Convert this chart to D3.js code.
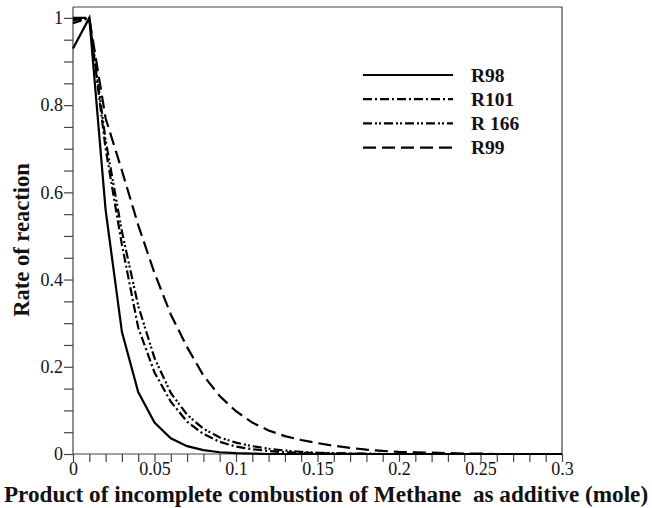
<!DOCTYPE html>
<html>
<head>
<meta charset="utf-8">
<script src="https://cdn.jsdelivr.net/npm/d3@7/dist/d3.min.js"></script>
<style>
  body { margin: 0; background: #fff; }
  text { font-family: "Liberation Serif", "Times New Roman", serif; fill: #111; }
  .axis path, .axis line { stroke: #444; stroke-width: 1.2; }
  .title { font-weight: bold; white-space: pre; }
</style>
</head>
<body>
<svg id="chart"></svg>
<script>
// x positions (mole) and rates for each reaction
const xValues = [0, 0.01, 0.02, 0.03, 0.04, 0.05, 0.06, 0.07, 0.08, 0.09, 0.1,
  0.11, 0.12, 0.13, 0.14, 0.15, 0.16, 0.17, 0.18, 0.19, 0.2,
  0.21, 0.22, 0.23, 0.24, 0.25, 0.26, 0.27, 0.28, 0.29, 0.3];

const r98 = [0.93, 1.0, 0.56, 0.28, 0.142, 0.072, 0.036, 0.018, 0.009, 0.004, 0.002,
  0.001, 0, 0, 0, 0, 0, 0, 0, 0, 0, 0, 0, 0, 0, 0, 0, 0, 0, 0, 0];
const r101 = [0.995, 1.0, 0.70, 0.48, 0.29, 0.187, 0.12, 0.074, 0.046, 0.028, 0.017,
  0.011, 0.007, 0.004, 0.003, 0.002, 0.001, 0.001, 0, 0, 0, 0, 0, 0, 0, 0, 0, 0, 0, 0, 0];
const r166 = [0.988, 1.0, 0.72, 0.51, 0.34, 0.22, 0.14, 0.09, 0.058, 0.038, 0.026,
  0.018, 0.012, 0.008, 0.005, 0.003, 0.002, 0.001, 0.001, 0, 0, 0, 0, 0, 0, 0, 0, 0, 0, 0, 0];
const r99 = [1.0, 1.0, 0.77, 0.65, 0.525, 0.415, 0.32, 0.245, 0.18, 0.133, 0.098,
  0.072, 0.054, 0.041, 0.032, 0.025, 0.019, 0.014, 0.010, 0.007, 0.005,
  0.004, 0.003, 0.002, 0.001, 0.001, 0, 0, 0, 0, 0];

const seriesNames = ['R98', 'R101', 'R 166', 'R99'];
const seriesValues = [r98, r101, r166, r99];
const dashes = ['none', '9,3,2,3', '9,3,2,2,2,3', '13,6'];

const xTickLabels = [0, 0.05, 0.1, 0.15, 0.2, 0.25, 0.3];
const yTickLabels = [0, 0.2, 0.4, 0.6, 0.8, 1];

const width = 652;
const height = 508;
const margin = { top: 7, right: 90, bottom: 54, left: 73 };
const innerWidth = width - margin.left - margin.right;
const innerHeight = height - margin.top - margin.bottom;

const svg = d3.select('#chart')
  .attr('width', width)
  .attr('height', height);

const scaleX = d3.scaleLinear()
  .domain([0, 0.3])
  .range([margin.left, margin.left + innerWidth]);

const scaleY = d3.scaleLinear()
  .domain([0, 1.025])
  .range([margin.top + innerHeight, margin.top]);

const xMinor = d3.range(0, 31).map((i) => i / 100);
const yMinor = d3.range(0, 21).map((i) => i / 20);
const isMajor = (list, v) => list.some((t) => Math.abs(t - v) < 1e-9);

const axisX = d3.axisBottom(scaleX)
  .tickValues(xMinor)
  .tickSize(8)
  .tickPadding(2)
  .tickSizeOuter(0)
  .tickFormat((d) => isMajor(xTickLabels, d) ? String(+d.toFixed(2)) : '');

const axisY = d3.axisLeft(scaleY)
  .tickValues(yMinor)
  .tickSize(9)
  .tickPadding(1)
  .tickSizeOuter(0)
  .tickFormat((d) => isMajor(yTickLabels, d) ? String(+d.toFixed(1)) : '');

// frame on top and right
svg.append('path')
  .attr('d', `M${scaleX(0)},${margin.top}H${scaleX(0.3)}V${scaleY(0)}`)
  .attr('fill', 'none')
  .attr('stroke', '#444')
  .attr('stroke-width', 1.2);

const gx = svg.append('g')
  .attr('class', 'axis x')
  .attr('transform', `translate(0, ${scaleY(0)})`)
  .call(axisX);
gx.select('.domain').attr('d', `M${scaleX(0)},0H${scaleX(0.3)}`);

const gy = svg.append('g')
  .attr('class', 'axis y')
  .attr('transform', `translate(${scaleX(0)}, 0)`)
  .call(axisY);
gy.select('.domain').attr('d', `M0,${margin.top}V${scaleY(0)}`);

svg.selectAll('.axis text')
  .filter(function () { return this.textContent === ''; })
  .remove();
svg.selectAll('.axis text')
  .attr('font-size', 18)
  .attr('fill', '#111');
gx.selectAll('text').attr('dy', '0.62em');

const line = d3.line()
  .x((d) => scaleX(d[0]))
  .y((d) => scaleY(d[1]));

seriesValues.forEach((vals, i) => {
  svg.append('path')
    .datum(xValues.map((x, j) => [x, vals[j]]))
    .attr('fill', 'none')
    .attr('stroke', '#000')
    .attr('stroke-width', 2.2)
    .attr('stroke-dasharray', dashes[i])
    .attr('d', line);
});

// legend
const legend = svg.append('g')
  .attr('transform', 'translate(363, 75)');

seriesNames.forEach((name, i) => {
  const row = legend.append('g').attr('transform', `translate(0, ${i * 24.2})`);
  row.append('line')
    .attr('x1', 0).attr('x2', 90)
    .attr('stroke', '#000')
    .attr('stroke-width', 2.2)
    .attr('stroke-dasharray', dashes[i]);
  row.append('text')
    .attr('class', 'title')
    .attr('x', 108)
    .attr('dy', '0.34em')
    .attr('font-size', 19.5)
    .text(name);
});

svg.append('text')
  .attr('class', 'title')
  .attr('transform', `translate(29, 240) rotate(-90)`)
  .attr('text-anchor', 'middle')
  .attr('font-size', 22.5)
  .text('Rate of reaction');

svg.append('text')
  .attr('class', 'title')
  .attr('x', 326)
  .attr('y', 502)
  .attr('text-anchor', 'middle')
  .attr('font-size', 23.2)
  .text('Product of incomplete combustion of Methane  as additive (mole)');
</script>
</body>
</html>
